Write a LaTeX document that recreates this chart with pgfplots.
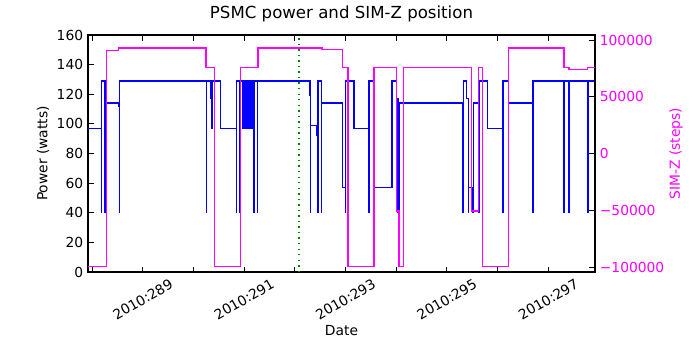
\documentclass[border=0pt]{standalone}
\usepackage{pgfplots}
\pgfplotsset{compat=1.18}
\usepackage{fontspec}
\setmainfont{DejaVu Sans}
\definecolor{mplblue}{rgb}{0,0,1}
\definecolor{mplmag}{rgb}{1,0,1}
\definecolor{mplgreen}{rgb}{0,0.5,0}
\begin{document}
\begin{tikzpicture}
\pgfplotsset{
  every axis/.append style={
    scale only axis, width=366.4pt, height=171.3pt,
    xmin=287.921, xmax=297.921,
    /pgf/number format/assume math mode=true,
    tick align=inside,
    font=\fontsize{10}{12}\selectfont,
    axis line style={line width=0.8pt},
    major tick length=4pt,
    tick style={line width=0.6pt, black},
  }
}
\begin{axis}[
  ymin=0, ymax=160, ytick={0,20,...,160},
  xtick={289,291,293,295,297},
  xticklabels={2010:289,2010:291,2010:293,2010:295,2010:297},
  minor xtick={288,290,292,294,296},
  minor tick length=4pt,
  xtick pos=both, ytick pos=left,
  xticklabel style={yshift=-19.8pt, rotate=30, anchor=center},
  xlabel={Date},
  xlabel style={at={(axis description cs:0.5,-0.2475)}, anchor=center},
  ylabel={Power (watts)},
  ylabel style={at={(axis description cs:-0.0887,0.5)}, anchor=center},
  title={PSMC power and SIM-Z position},
  title style={at={(axis description cs:0.5,1.055)}, anchor=center, font=\fontsize{12}{14}\selectfont},
]
\addplot[mplblue, line width=1pt, mark=none] coordinates {
(287.921,97)
(288.191,97)(288.191,40)(288.191,129)
(288.256,129)(288.256,40)(288.256,114)
(288.527,114)(288.527,112)(288.538,112)(288.538,40)(288.538,129)
(290.262,129)(290.262,40)(290.262,129)
(290.335,129)(290.335,117)(290.36,117)(290.36,97)(290.37,97)(290.37,129)
(290.412,129)(290.412,40)(290.412,129)
(290.538,129)(290.538,97)
(290.854,97)(290.854,40)(290.854,129)
(290.919,129)(290.919,40)(290.919,129)
(290.972,129)(290.972,97)(290.980,97)(290.980,129)
(290.988,129)(290.988,97)(290.996,97)(290.996,129)
(291.004,129)(291.004,97)(291.012,97)(291.012,129)
(291.020,129)(291.020,97)(291.028,97)(291.028,129)
(291.036,129)(291.036,97)(291.044,97)(291.044,129)
(291.052,129)(291.052,97)(291.060,97)(291.060,129)
(291.068,129)(291.068,97)(291.076,97)(291.076,129)
(291.084,129)(291.084,97)(291.092,97)(291.092,129)
(291.100,129)(291.100,97)(291.108,97)(291.108,129)
(291.116,129)(291.116,97)(291.124,97)(291.124,129)
(291.140,129)(291.140,97)(291.146,97)(291.146,129)
(291.160,129)(291.160,97)(291.166,97)(291.166,129)
(291.195,129)(291.195,40)(291.195,129)
(291.268,129)(291.268,40)(291.268,129)
(292.300,129)(292.300,119)(292.305,119)(292.305,40)(292.305,99)
(292.440,99)(292.440,92)(292.444,92)(292.444,40)(292.460,40)(292.460,129)
(292.531,129)(292.531,40)(292.531,114)
(292.940,114)(292.940,112)(292.945,112)(292.945,57)(292.995,57)(292.995,40)(293.000,40)(293.000,129)
(293.168,129)(293.168,97)
(293.458,97)(293.458,40)(293.466,40)(293.466,129)
(293.556,129)(293.556,40)(293.568,40)(293.568,57)
(293.917,57)(293.917,129)
(294.002,129)(294.002,117)(294.036,117)(294.036,40)(294.036,114)(294.062,114)(294.062,40)(294.062,114)
(295.310,114)(295.310,40)(295.322,40)(295.322,129)
(295.389,129)(295.389,117)(295.422,117)(295.422,40)(295.422,57)
(295.509,57)(295.509,40)(295.530,40)(295.530,114)
(295.619,114)(295.619,40)(295.639,40)(295.639,129)
(295.805,129)(295.805,97)
(296.097,97)(296.097,40)(296.110,40)(296.110,129)
(296.211,129)(296.211,114)
(296.692,114)(296.692,40)(296.700,40)(296.700,129)
(297.313,129)(297.313,40)(297.313,129)
(297.410,129)(297.410,40)(297.410,129)
(297.780,129)(297.780,40)(297.780,129)
(297.921,129)
};
\addplot[mplgreen, line width=1pt, dash pattern=on 1pt off 3pt, mark=none] coordinates {(292.083,0)(292.083,160)};
\end{axis}
\begin{axis}[
  axis y line*=right, axis x line=none,
  ymin=-104400, ymax=104400,
  scaled y ticks=false,
  ytick={-100000,-50000,0,50000,100000},
  yticklabels={−100000,−50000,0,50000,100000},
  yticklabel style={mplmag},
  ylabel={SIM-Z (steps)},
  ylabel style={at={(axis description cs:1.1597,0.5)}, anchor=center, mplmag},
]
\addplot[mplmag, line width=1pt, mark=none] coordinates {
(287.921,-99616)(288.290,-99616)(288.290,90700)(288.527,90700)(288.527,92904)
(290.249,92904)(290.249,75624)(290.412,75624)(290.412,-99616)
(290.933,-99616)(290.933,75624)(291.274,75624)(291.274,92904)
(292.537,92904)(292.537,91500)(292.937,91500)(292.937,75624)
(293.049,75624)(293.049,-99616)(293.562,-99616)(293.562,75624)
(294.010,75624)(294.010,-50505)(294.055,-50505)(294.055,-99616)
(294.140,-99616)(294.140,75624)(295.489,75624)(295.489,-50505)
(295.619,-50505)(295.619,75624)(295.706,75624)(295.706,-99616)
(296.211,-99616)(296.211,92904)(297.310,92904)(297.310,75624)
(297.408,75624)(297.408,73800)(297.769,73800)(297.769,75624)(297.921,75624)
};
\end{axis}
\path ([shift={(-63.6pt,-56.4pt)}]current axis.south west) rectangle ([shift={(75.9pt,25.3pt)}]current axis.north east);
\end{tikzpicture}
\end{document}
